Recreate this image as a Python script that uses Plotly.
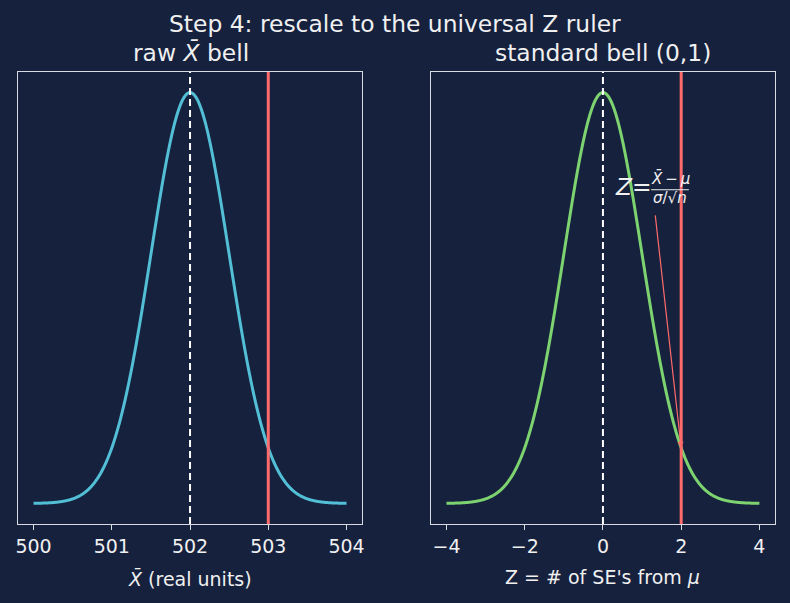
import numpy as np
import plotly.graph_objects as go

# ---- data / parameters ----
mu_raw = 502.0          # centre of raw X-bar bell
se_raw = 0.5            # standard error of raw bell
x_raw_range = [500, 504]
observed_xbar = 503.0   # red line (left)
z_range = [-4, 4]
observed_z = 2.0        # red line (right)
left_ticks = [500, 501, 502, 503, 504]
right_ticks = [-4, -2, 0, 2, 4]
right_ticktext = ["\u22124", "\u22122", "0", "2", "4"]

BG = "#16213e"
FG = "#f0f0f0"
SPINE = "#d8dbe2"
CYAN = "#52bfd6"
GREEN = "#7dd36f"
RED = "#ff6b6b"

TITLE_FS = 23.4
TICK_FS = 19
LABEL_FS = 19

def npdf(x, m, s):
    return np.exp(-0.5 * ((x - m) / s) ** 2) / (s * np.sqrt(2 * np.pi))

xr = np.linspace(x_raw_range[0], x_raw_range[1], 600)
yr = npdf(xr, mu_raw, se_raw)
xz = np.linspace(z_range[0], z_range[1], 600)
yz = npdf(xz, 0, 1)

W, H = 790, 603
def px(xp): return xp / W
def py(yp): return 1 - yp / H

fig = go.Figure()
fig.add_trace(go.Scatter(x=xr, y=yr, mode="lines",
                         line=dict(color=CYAN, width=3, simplify=False),
                         xaxis="x", yaxis="y", showlegend=False, hoverinfo="skip"))
fig.add_trace(go.Scatter(x=xz, y=yz, mode="lines",
                         line=dict(color=GREEN, width=3, simplify=False),
                         xaxis="x2", yaxis="y2", showlegend=False, hoverinfo="skip"))

pk_r = yr.max(); pk_z = yz.max()
ax_common = dict(showline=True, mirror=True, linecolor=SPINE, linewidth=1.2,
                 showgrid=False, zeroline=False)
fig.update_layout(
    width=W, height=H, paper_bgcolor=BG, plot_bgcolor=BG,
    margin=dict(l=0, r=0, t=0, b=0),
    font=dict(family="DejaVu Sans", color=FG, size=TICK_FS),
    xaxis=dict(domain=[px(16), px(362)], range=[499.8, 504.2], tickvals=left_ticks,
               ticks="outside", ticklen=5, tickcolor=SPINE,
               tickfont=dict(size=TICK_FS, color=FG),
               anchor="y", **ax_common),
    yaxis=dict(domain=[py(524), py(72)], range=[-0.05 * pk_r, 1.05 * pk_r],
               showticklabels=False, ticks="", anchor="x", **ax_common),
    xaxis2=dict(domain=[px(431), px(777)], range=[-4.4, 4.4], tickvals=right_ticks,
                ticktext=right_ticktext,
                ticks="outside", ticklen=5, tickcolor=SPINE,
                tickfont=dict(size=TICK_FS, color=FG),
                anchor="y2", **ax_common),
    yaxis2=dict(domain=[py(524), py(72)], range=[-0.05 * pk_z, 1.05 * pk_z],
                showticklabels=False, ticks="", anchor="x2", **ax_common),
)

shapes = [
    dict(type="line", xref="x", yref="y domain", x0=mu_raw, x1=mu_raw, y0=0, y1=1,
         line=dict(color="white", width=2, dash="7px,4px")),
    dict(type="line", xref="x", yref="y domain", x0=observed_xbar, x1=observed_xbar, y0=0, y1=1,
         line=dict(color=RED, width=3)),
    dict(type="line", xref="x2", yref="y2 domain", x0=0, x1=0, y0=0, y1=1,
         line=dict(color="white", width=2, dash="7px,4px")),
    dict(type="line", xref="x2", yref="y2 domain", x0=observed_z, x1=observed_z, y0=0, y1=1,
         line=dict(color=RED, width=3)),
]
# helpers mapping reference pixel positions into the right panel's data space
def zx(p): return (p - 446) / 39.375 - 4
def zy(p): return (503 - p) / 410 * pk_z
# fraction bar of the Z formula
shapes.append(dict(type="line", xref="x2", yref="y2", x0=zx(652), x1=zx(690),
                   y0=zy(190), y1=zy(190), line=dict(color=FG, width=1)))
fig.update_layout(shapes=shapes)

def txt(text, x, y, size, **kw):
    d = dict(text=text, xref="paper", yref="paper", x=x, y=y, xanchor="center",
             yanchor="middle", showarrow=False, font=dict(size=size, color=FG))
    d.update(kw)
    return d

ann = [
    txt("Step 4: rescale to the universal Z ruler", 0.5, py(24), TITLE_FS),
    txt("raw <i>X\u0304</i> bell", px(190), py(53), TITLE_FS),
    txt("standard bell (0,1)", px(604), py(53), TITLE_FS),
    txt("<i>X\u0304</i> (real units)", px(189), py(578), LABEL_FS),
    txt("Z = # of SE's from <i>\u03bc</i>", px(604), py(577), LABEL_FS),
    # arrow
    dict(text="", xref="x2", yref="y2", x=observed_z, y=npdf(observed_z, 0, 1),
         axref="x2", ayref="y2", ax=zx(656), ay=zy(214), showarrow=True,
         arrowhead=2, arrowsize=1, arrowwidth=1.2, arrowcolor=RED),
    # formula pieces
    txt("<i>Z</i>=", zx(614), zy(187), TITLE_FS, xref="x2", yref="y2", xanchor="left"),
    txt("<i>X\u0304</i>\u2009\u2212\u2009<i>\u03bc</i>", zx(671), zy(179), 15,
        xref="x2", yref="y2"),
    txt("<i>\u03c3</i>/\u221a<i>n</i>", zx(671), zy(198), 15, xref="x2", yref="y2"),
]
fig.update_layout(annotations=ann)

fig.write_html("out.html")
